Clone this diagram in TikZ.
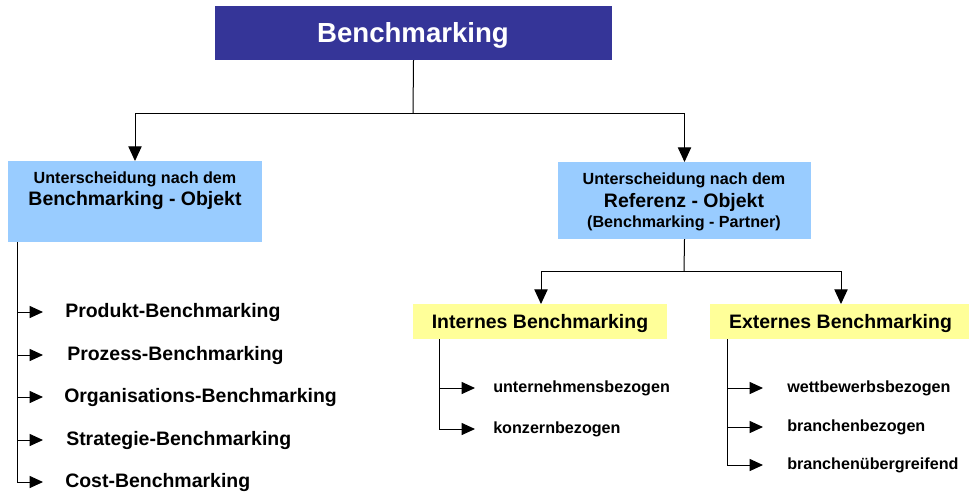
\documentclass[tikz,border=0pt]{standalone}
\usepackage{fontspec}
\setmainfont{Liberation Sans}
\usetikzlibrary{arrows.meta}
\definecolor{topblue}{HTML}{353598}
\definecolor{lightblue}{HTML}{99CCFF}
\definecolor{lightyellow}{HTML}{FFFF99}
\begin{document}
\begin{tikzpicture}[x=0.75pt,y=-0.75pt,
  conn/.style={line width=0.75pt},
  arr/.style={conn,-{Triangle[length=10pt,width=9pt]}},
  downarr/.style={conn,-{Triangle[length=11pt,width=10pt]}},
  boxstyle/.style={inner sep=0pt, outer sep=0pt},
  bigtxt/.style={inner sep=0pt, font=\bfseries\fontsize{14.6}{17}\selectfont},
  smalltxt/.style={inner sep=0pt, font=\bfseries\fontsize{12.1}{14}\selectfont},
  itemtxt/.style={bigtxt, anchor=west},
  subtxt/.style={smalltxt, anchor=west}]
\useasboundingbox (0,0) rectangle (969,494);

% top box
\node[boxstyle, fill=topblue, minimum width=297.75pt, minimum height=40.5pt] (top) at (413.5,33) {};
\node[inner sep=0pt, text=white, font=\bfseries\fontsize{20.7}{24}\selectfont] (toptxt) at (413,35) {Benchmarking};

% left blue box
\node[boxstyle, fill=lightblue, minimum width=190.5pt, minimum height=60.75pt] (lbox) at (135,201.5) {};
\node[smalltxt] (l1) at (135,179) {Unterscheidung nach dem};
\node[bigtxt] (l2) at (135,201) {Benchmarking - Objekt};

% right blue box
\node[boxstyle, fill=lightblue, minimum width=189.75pt, minimum height=57.75pt] (rbox) at (684.5,200.5) {};
\node[smalltxt] (r1) at (684,180) {Unterscheidung nach dem};
\node[bigtxt] (r2) at (684,202) {Referenz - Objekt};
\node[smalltxt] (r3) at (684,223) {(Benchmarking - Partner)};

% yellow boxes
\node[boxstyle, fill=lightyellow, minimum width=190.5pt, minimum height=26.25pt] (ibox) at (540,321.5) {};
\node[bigtxt] (itxt) at (540,323) {Internes Benchmarking};
\node[boxstyle, fill=lightyellow, minimum width=194.25pt, minimum height=26.25pt] (ebox) at (839.5,321.5) {};
\node[bigtxt] (etxt) at (840.5,323) {Externes Benchmarking};

% top connectors
\coordinate (j1) at (413,113);
\draw[conn] (top.south) -- (j1);
\draw[downarr] (j1) -| (lbox.north);
\draw[downarr] (j1) -| (rbox.north);

\coordinate (j2) at (684,271);
\coordinate (ia) at (541,271);
\coordinate (ea) at (841,271);
\draw[conn] (rbox.south) -- (j2);
\draw[conn] (ia) -- (ea);
\draw[downarr] (ia) -- (ia |- ibox.north);
\draw[downarr] (ea) -- (ea |- ebox.north);

% left list
\coordinate (lv) at (17,242);
\node[itemtxt] (p1) at (65,312) {Produkt-Benchmarking};
\node[itemtxt] (p2) at (67,355) {Prozess-Benchmarking};
\node[itemtxt] (p3) at (64,397) {Organisations-Benchmarking};
\node[itemtxt] (p4) at (66,440) {Strategie-Benchmarking};
\node[itemtxt] (p5) at (65,482) {Cost-Benchmarking};
\coordinate (lt1) at (43,312);
\coordinate (lt2) at (43,355);
\coordinate (lt3) at (43,397);
\coordinate (lt4) at (43,440);
\coordinate (lt5) at (43,482);
\draw[conn] (lv) -- (lv |- lt5);
\foreach \t in {lt1,lt2,lt3,lt4,lt5} \draw[arr] (lv |- \t) -- (\t);

% internes list
\coordinate (iv) at (439,339);
\node[subtxt] (i1) at (493,388) {unternehmensbezogen};
\node[subtxt] (i2) at (493,429) {konzernbezogen};
\coordinate (it1) at (475,388);
\coordinate (it2) at (475,429);
\draw[conn] (iv) -- (iv |- it2);
\foreach \t in {it1,it2} \draw[arr] (iv |- \t) -- (\t);

% externes list
\coordinate (ev) at (727,339);
\node[subtxt] (e1) at (787,388) {wettbewerbsbezogen};
\node[subtxt] (e2) at (787,427) {branchenbezogen};
\node[subtxt] (e3) at (787,465) {branchenübergreifend};
\coordinate (et1) at (763,388);
\coordinate (et2) at (763,427);
\coordinate (et3) at (763,465);
\draw[conn] (ev) -- (ev |- et3);
\foreach \t in {et1,et2,et3} \draw[arr] (ev |- \t) -- (\t);
\end{tikzpicture}
\end{document}
